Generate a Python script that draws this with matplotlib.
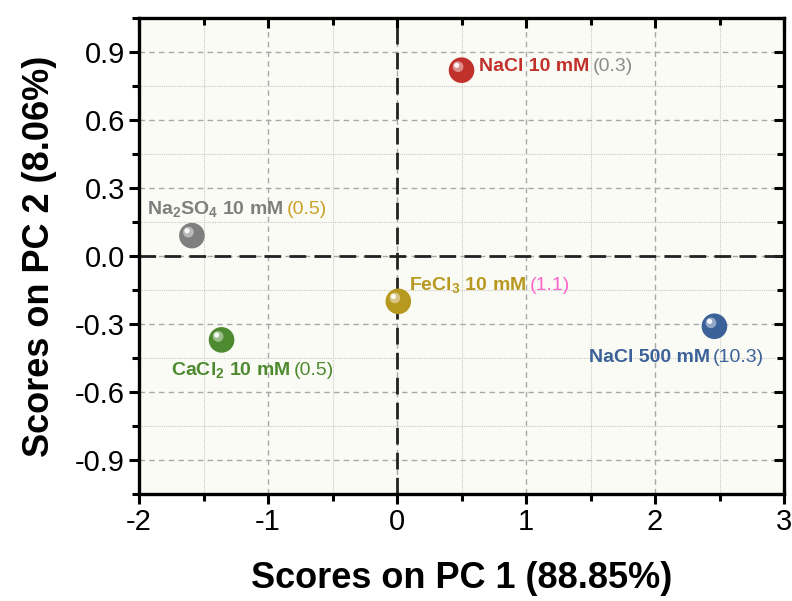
import matplotlib
matplotlib.use('Agg')
import matplotlib.pyplot as plt
import matplotlib.transforms as mtransforms
from matplotlib import font_manager
from matplotlib.ticker import MultipleLocator, FormatStrFormatter

names = ['NaCl 10 mM', 'Na$\\mathregular{_2}$SO$\\mathregular{_4}$ 10 mM', 'CaCl$\\mathregular{_2}$ 10 mM',
         'FeCl$\\mathregular{_3}$ 10 mM', 'NaCl 500 mM']
values = ['(0.3)', '(0.5)', '(0.5)', '(1.1)', '(10.3)']
pc1 = [0.50, -1.59, -1.36, 0.01, 2.46]
pc2 = [0.82, 0.09, -0.37, -0.20, -0.31]
colors = ['#c1312b', '#7f7f7f', '#4e8a2f', '#b8991f', '#3b6199']
value_colors = ['#8c8c8c', '#c9a227', '#4e8a2f', '#ff66cc', '#3b6199']
label_x = [0.635, -1.94, -1.75, 0.094, 1.485]
label_y = [0.815, 0.185, -0.523, -0.15, -0.466]

avail = {f.name for f in font_manager.fontManager.ttflist}
fam = 'Liberation Sans Narrow' if 'Liberation Sans Narrow' in avail else 'Liberation Sans'
plt.rcParams['font.family'] = [fam, 'DejaVu Sans']
plt.rcParams['axes.unicode_minus'] = False

fig = plt.figure(figsize=(7.92, 6.01), dpi=100)
ax = fig.add_axes([0.1755, 0.178, 0.8145, 0.792])
ax.set_facecolor('#fbfbf6')

ax.set_xlim(-2, 3)
ax.set_ylim(-1.05, 1.05)
ax.xaxis.set_major_locator(MultipleLocator(1))
ax.xaxis.set_minor_locator(MultipleLocator(0.5))
ax.yaxis.set_major_locator(MultipleLocator(0.3))
ax.yaxis.set_minor_locator(MultipleLocator(0.15))
ax.yaxis.set_major_formatter(FormatStrFormatter('%.1f'))
ax.xaxis.set_major_formatter(FormatStrFormatter('%d'))

ax.grid(which='major', color='#a8a8a8', linestyle=(0, (4, 3)), linewidth=1)
ax.grid(which='minor', color='#c8c8c8', linestyle=(0, (1, 1)), linewidth=0.8)
ax.set_axisbelow(True)

ax.axhline(0, color='#222222', linestyle=(0, (6, 3)), linewidth=2, zorder=2)
ax.axvline(0, color='#222222', linestyle=(0, (6, 3)), linewidth=2, zorder=2)

for s in ax.spines.values():
    s.set_linewidth(2.4)

ax.tick_params(which='major', direction='out', length=7, width=2.2, labelsize=21, pad=3)
ax.tick_params(which='minor', direction='out', length=5, width=2.2)
ax.tick_params(which='both', top=True, right=True)
for t in ax.xaxis.get_major_ticks() + ax.xaxis.get_minor_ticks():
    t.tick2line.set_marker(matplotlib.lines.TICKDOWN)
for t in ax.yaxis.get_major_ticks() + ax.yaxis.get_minor_ticks():
    t.tick2line.set_marker(matplotlib.lines.TICKLEFT)

# spheres: base disc plus offset highlights
hl1 = mtransforms.offset_copy(ax.transData, fig=fig, x=-2.5, y=2.5, units='points')
hl2 = mtransforms.offset_copy(ax.transData, fig=fig, x=-3.5, y=3.5, units='points')
for i in range(len(pc1)):
    ax.scatter(pc1[i], pc2[i], s=340, color=colors[i], edgecolors='none', zorder=4)
    ax.scatter(pc1[i], pc2[i], s=60, color='white', alpha=0.45, edgecolors='none', zorder=5, transform=hl1)
    ax.scatter(pc1[i], pc2[i], s=14, color='white', alpha=0.9, edgecolors='none', zorder=6, transform=hl2)

for i in range(len(names)):
    t = ax.text(label_x[i], label_y[i], names[i], color=colors[i], fontsize=14,
                fontweight='bold', va='baseline', ha='left', zorder=7)
    ax.annotate(values[i], xy=(1, label_y[i]), xycoords=(t, 'data'), xytext=(2.5, 0),
                textcoords='offset points', color=value_colors[i], fontsize=14,
                va='baseline', ha='left', zorder=7)

ax.set_xlabel('Scores on PC 1 (88.85%)', fontsize=26, fontweight='bold', labelpad=18)
ax.set_ylabel('Scores on PC 2 (8.06%)', fontsize=26, fontweight='bold', labelpad=13)

fig.savefig('out.png', dpi=100)
